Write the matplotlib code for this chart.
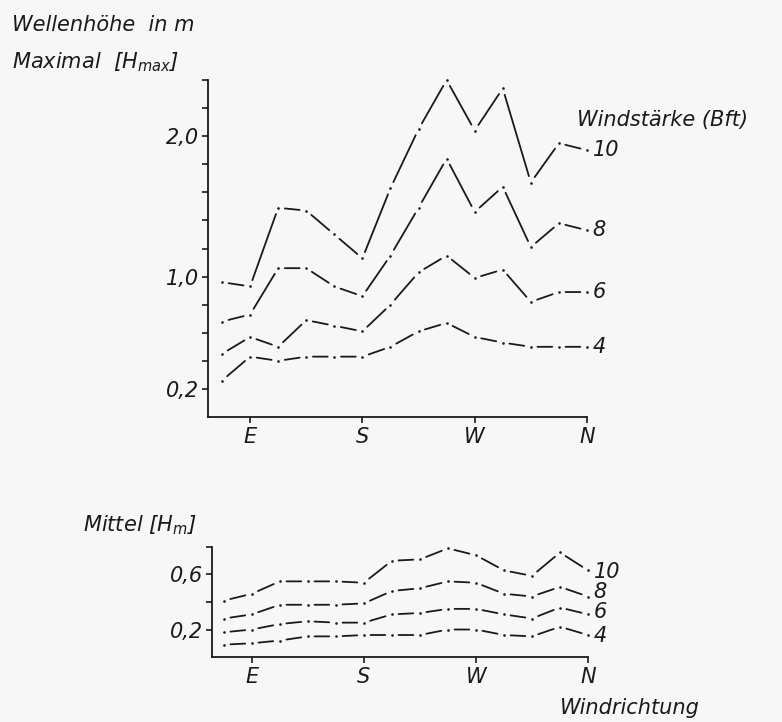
import matplotlib.pyplot as plt

# Windrichtung in Grad (ENE ... N, 22,5-Grad-Schritte)
richtung = [67.5, 90, 112.5, 135, 157.5, 180, 202.5, 225, 247.5, 270, 292.5, 315, 337.5, 360]
richtung_ticks = [90, 180, 270, 360]
richtung_labels = ["E", "S", "W", "N"]

windstaerken = [10, 8, 6, 4]

# Maximale Wellenhoehe H_max in m
hmax_10 = [0.96, 0.93, 1.49, 1.47, 1.30, 1.13, 1.63, 2.05, 2.40, 2.04, 2.34, 1.67, 1.95, 1.90]
hmax_8 = [0.68, 0.73, 1.06, 1.06, 0.93, 0.86, 1.15, 1.49, 1.84, 1.46, 1.64, 1.21, 1.38, 1.33]
hmax_6 = [0.45, 0.57, 0.50, 0.69, 0.65, 0.61, 0.80, 1.03, 1.15, 0.99, 1.05, 0.82, 0.89, 0.89]
hmax_4 = [0.26, 0.43, 0.40, 0.43, 0.43, 0.43, 0.50, 0.61, 0.67, 0.57, 0.53, 0.50, 0.50, 0.50]

# Mittlere Wellenhoehe H_m in m
hm_10 = [0.41, 0.46, 0.55, 0.55, 0.55, 0.54, 0.70, 0.71, 0.79, 0.74, 0.63, 0.59, 0.76, 0.63]
hm_8 = [0.28, 0.31, 0.38, 0.38, 0.38, 0.39, 0.48, 0.50, 0.55, 0.54, 0.46, 0.44, 0.51, 0.44]
hm_6 = [0.18, 0.20, 0.24, 0.26, 0.25, 0.25, 0.31, 0.32, 0.35, 0.35, 0.31, 0.28, 0.36, 0.31]
hm_4 = [0.09, 0.10, 0.12, 0.15, 0.15, 0.16, 0.16, 0.16, 0.20, 0.20, 0.16, 0.15, 0.22, 0.16]

hmax_ticks = [0.2, 0.4, 0.6, 0.8, 1.0, 1.2, 1.4, 1.6, 1.8, 2.0, 2.2, 2.4]
hmax_labels = ["0,2", "", "", "", "1,0", "", "", "", "", "2,0", "", ""]
hm_ticks = [0.2, 0.4, 0.6, 0.8]
hm_labels = ["0,2", "", "0,6", ""]

bg = "#f7f7f7"
ink = "#1a1a1a"

plt.rcParams["font.family"] = "DejaVu Sans"
plt.rcParams["font.style"] = "italic"
plt.rcParams["font.size"] = 15
plt.rcParams["mathtext.fontset"] = "custom"
plt.rcParams["mathtext.it"] = "DejaVu Sans:italic"
plt.rcParams["mathtext.rm"] = "DejaVu Sans:italic"
plt.rcParams["text.color"] = ink


def zeichne(ax, reihen):
    # Punkt an jedem Wert, Strich dazwischen mit kleiner Luecke
    for y in reihen:
        ax.plot(richtung, y, ls="none", marker="o", ms=1.9, mew=0, color=ink, clip_on=False)
        for i in range(len(y) - 1):
            ax.annotate("", xy=(richtung[i + 1], y[i + 1]), xytext=(richtung[i], y[i]),
                        arrowprops=dict(arrowstyle="-", color=ink, lw=1.3,
                                        shrinkA=4.8, shrinkB=4.8),
                        annotation_clip=False)


def achsen(ax):
    ax.set_facecolor(bg)
    ax.spines["top"].set_visible(False)
    ax.spines["right"].set_visible(False)
    ax.spines["left"].set_linewidth(1.3)
    ax.spines["bottom"].set_linewidth(1.3)
    ax.spines["left"].set_color(ink)
    ax.spines["bottom"].set_color(ink)
    ax.tick_params(direction="out", length=4.5, width=1.2, color=ink,
                   labelsize=15, pad=2, labelcolor=ink)
    ax.tick_params(axis="x", pad=3)
    ax.set_xticks(richtung_ticks)
    ax.set_xticklabels(richtung_labels)


fig = plt.figure(figsize=(7.82, 7.22), dpi=100, facecolor=bg)

# oben: maximale Wellenhoehe
ax1 = fig.add_axes([0.266, 0.4224, 0.4846, 0.4668])
achsen(ax1)
ax1.set_xlim(56.25, 360)
ax1.set_ylim(0, 2.4)
ax1.set_yticks(hmax_ticks)
ax1.set_yticklabels(hmax_labels)
zeichne(ax1, [hmax_10, hmax_8, hmax_6, hmax_4])
for k, y in zip(windstaerken, [hmax_10, hmax_8, hmax_6, hmax_4]):
    ax1.annotate(str(k), xy=(360, y[-1]), xytext=(4, 0), textcoords="offset points",
                 va="center", ha="left", fontsize=15, annotation_clip=False)

# unten: mittlere Wellenhoehe
ax2 = fig.add_axes([0.2711, 0.090, 0.4808, 0.1524])
achsen(ax2)
ax2.set_xlim(58, 360)
ax2.set_ylim(0, 0.8)
ax2.set_yticks(hm_ticks)
ax2.set_yticklabels(hm_labels)
zeichne(ax2, [hm_10, hm_8, hm_6, hm_4])
for k, ly in zip(windstaerken, [0.62, 0.47, 0.33, 0.15]):
    ax2.annotate(str(k), xy=(360, ly), xytext=(4, 0), textcoords="offset points",
                 va="center", ha="left", fontsize=15, annotation_clip=False)

fig.text(12 / 782, 1 - 25 / 722, "Wellenhöhe  in m", ha="left", va="center", fontsize=15)
fig.text(12 / 782, 1 - 62 / 722, r"Maximal  $\left[H_{max}\right]$", ha="left", va="center", fontsize=15)
fig.text(577 / 782, 1 - 120 / 722, "Windstärke (Bft)", ha="left", va="center", fontsize=15)
fig.text(83 / 782, 1 - 525 / 722, r"Mittel $\left[H_{m}\right]$", ha="left", va="center", fontsize=15)
fig.text(560 / 782, 1 - 708 / 722, "Windrichtung", ha="left", va="center", fontsize=15)

fig.savefig("out.png", dpi=100, facecolor=bg)
